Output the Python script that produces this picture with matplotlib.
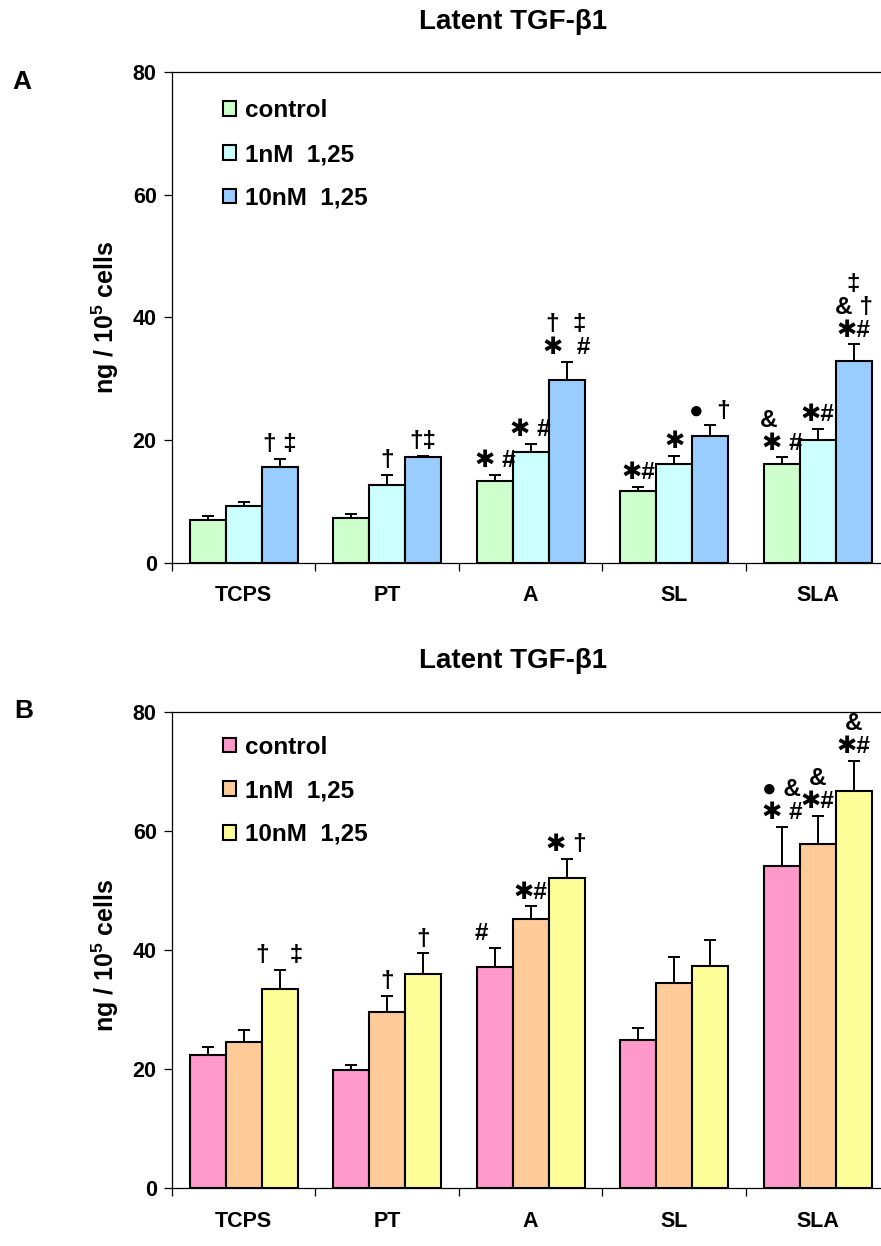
import matplotlib
matplotlib.use('Agg')
import matplotlib.pyplot as plt
import numpy as np

plt.rcParams['font.family'] = ['Liberation Sans', 'DejaVu Sans']
plt.rcParams['font.weight'] = 'bold'
plt.rcParams['mathtext.default'] = 'regular'

categories = ['TCPS', 'PT', 'A', 'SL', 'SLA']
series = ['control', '1nM  1,25', '10nM  1,25']

# panel A
a_control = [7.0, 7.3, 13.4, 11.8, 16.2]
a_1nm = [9.3, 12.7, 18.1, 16.2, 20.0]
a_10nm = [15.6, 17.3, 29.8, 20.6, 32.9]
a_control_err = [0.7, 0.7, 0.9, 0.6, 1.0]
a_1nm_err = [0.6, 1.6, 1.3, 1.3, 1.9]
a_10nm_err = [1.3, 0.1, 2.9, 1.8, 2.7]
a_notes = [
    ['', '', '† ‡'],
    ['', '†', '†‡'],
    ['✱ #', '✱ #', '†  ‡\n✱  #'],
    ['✱#', '✱', '●  †'],
    ['&    \n✱ #', '✱#', '‡\n& †\n✱#'],
]

# panel B
b_control = [22.4, 19.9, 37.2, 25.0, 54.1]
b_1nm = [24.6, 29.7, 45.2, 34.5, 57.9]
b_10nm = [33.5, 36.0, 52.2, 37.4, 66.7]
b_control_err = [1.3, 0.9, 3.2, 1.9, 6.6]
b_1nm_err = [2.0, 2.6, 2.2, 4.4, 4.7]
b_10nm_err = [3.2, 3.5, 3.2, 4.4, 5.1]
b_notes = [
    ['', '', '†   ‡'],
    ['', '†', '†'],
    ['#    ', '✱#', '✱ †'],
    ['', '', ''],
    ['● &\n✱ #', '&\n✱#', '&\n✱#'],
]

colors_a = ['#CCFFCC', '#CCFFFF', '#99CCFF']
colors_b = ['#FF99CC', '#FFCC99', '#FFFF99']


def draw_panel(ax, means, errs, colors, notes, legend_y):
    n = len(categories)
    for j in range(3):
        x = np.arange(n) + 0.5 + (j - 1) * 0.25
        ax.errorbar(x, means[j], yerr=[np.zeros(n), errs[j]], fmt='none',
                    ecolor='black', elinewidth=1.4, capsize=4.5, capthick=1.4, zorder=1)
        ax.bar(x, means[j], width=0.25, color=colors[j], edgecolor='black',
               linewidth=1.5, label=series[j], zorder=2)
        for i in range(n):
            if notes[i][j]:
                ax.annotate(notes[i][j], (x[i], means[j][i] + errs[j][i]),
                            xytext=(0, 2), textcoords='offset points',
                            ha='center', va='bottom', fontsize=17.5, linespacing=1.0)

    ax.set_xlim(0, n)
    ax.set_ylim(0, 80)
    ax.set_xticks(range(n + 1))
    ax.set_xticklabels([])
    ax.set_xticks(np.arange(n) + 0.5, minor=True)
    ax.set_xticklabels(categories, minor=True)
    ax.tick_params(axis='x', which='minor', length=0, pad=16, labelsize=15.5)
    ax.tick_params(axis='x', which='major', length=6, width=0.9, direction='out')
    ax.set_yticks([0, 20, 40, 60, 80])
    ax.tick_params(axis='y', length=6, width=0.9, pad=5, labelsize=15.5)
    for s in ax.spines.values():
        s.set_linewidth(0.9)

    ax.legend(loc='upper left', bbox_to_anchor=(0.071, legend_y), frameon=False,
              fontsize=17.5, handlelength=0.55, handleheight=0.55,
              handletextpad=0.35, labelspacing=0.85, borderpad=0, borderaxespad=0)


fig = plt.figure(figsize=(8.81, 12.46), dpi=100)
ax_a = fig.add_axes([0.1952, 0.5482, 0.8144, 0.3941])
ax_b = fig.add_axes([0.1952, 0.0463, 0.8144, 0.3820])

draw_panel(ax_a, [a_control, a_1nm, a_10nm], [a_control_err, a_1nm_err, a_10nm_err],
           colors_a, a_notes, 0.944)
draw_panel(ax_b, [b_control, b_1nm, b_10nm], [b_control_err, b_1nm_err, b_10nm_err],
           colors_b, b_notes, 0.951)

fig.text(513 / 881, 1 - 22 / 1246, 'Latent TGF-β1', ha='center', va='center', fontsize=20)
fig.text(513 / 881, 1 - 661 / 1246, 'Latent TGF-β1', ha='center', va='center', fontsize=20)
fig.text(22 / 881, 1 - 82 / 1246, 'A', ha='center', va='center', fontsize=19)
fig.text(24 / 881, 1 - 711 / 1246, 'B', ha='center', va='center', fontsize=19)
ylab = 'ng / 10$^5$ cells'
fig.text(105 / 881, 1 - 317 / 1246, ylab, rotation=90, ha='center', va='center', fontsize=18)
fig.text(105 / 881, 1 - 955 / 1246, ylab, rotation=90, ha='center', va='center', fontsize=18)

fig.savefig('out.png', dpi=100)
